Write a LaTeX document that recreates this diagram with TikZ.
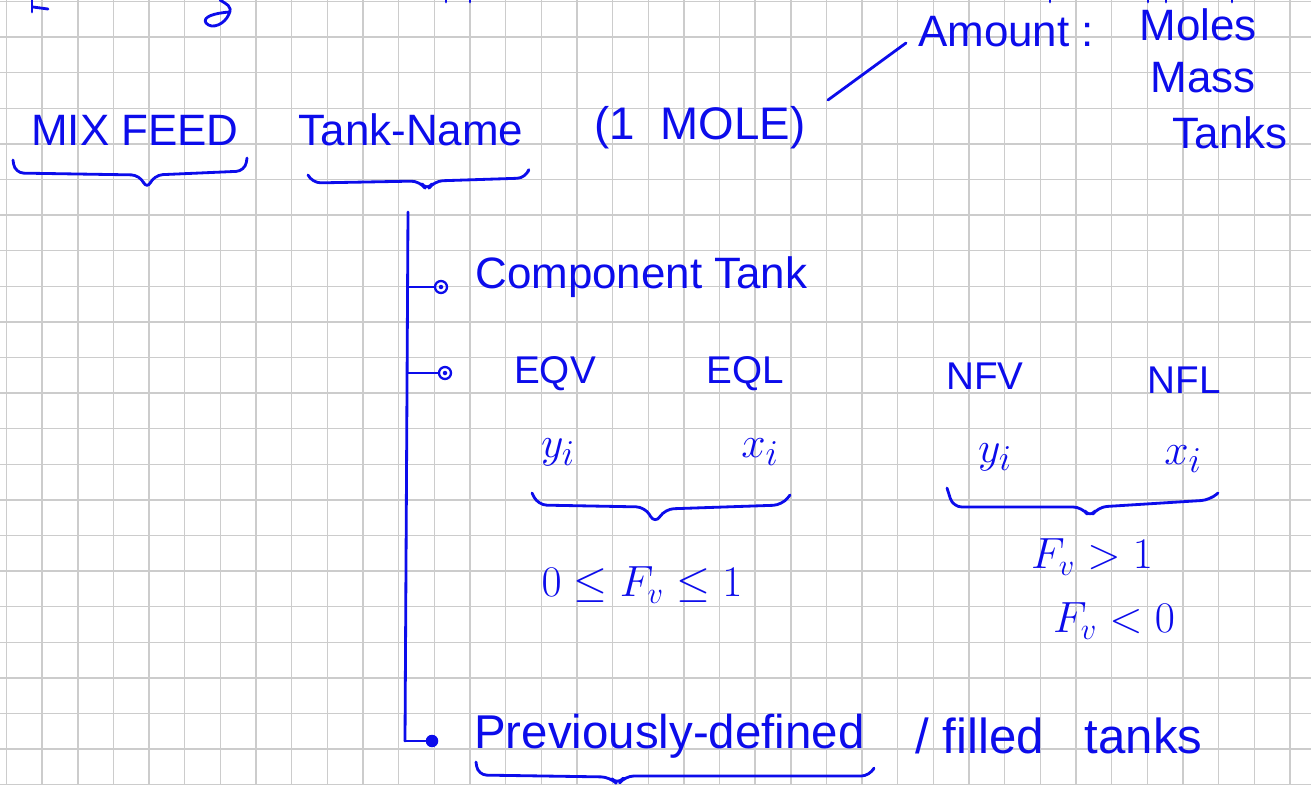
\documentclass[tikz,border=0pt]{standalone}
\usepackage{fontspec}
\setmainfont{Liberation Sans}
\usetikzlibrary{positioning}
\definecolor{inkblue}{RGB}{12,12,235}
\definecolor{gridgray}{RGB}{204,204,204}
\begin{document}
\begin{tikzpicture}[x=0.02cm, y=-0.02cm,
  ink/.style={draw=inkblue, line width=1.6pt, line cap=round, line join=round},
  brc/.style={ink, rounded corners=5pt},
  hand/.style={text=inkblue, inner sep=0pt, font=\fontsize{25}{30}\selectfont},
  small/.style={hand, font=\fontsize{22}{26}\selectfont},
  mth/.style={hand, font=\fontsize{32}{36}\selectfont},
  opendot/.style={circle, draw=inkblue, line width=1.3pt, inner sep=0pt, minimum size=0.24cm,
    path picture={\fill[inkblue] (path picture bounding box.center) circle (0.045cm);}},
  fulldot/.style={circle, fill=inkblue, inner sep=0pt, minimum size=0.25cm}]
  \useasboundingbox (0,0) rectangle (1311,785);
  \fill[white] (0,0) rectangle (1311,785);
  % squared paper
  \foreach \i in {0,...,36}
    \draw[gridgray, line width=0.8pt] ({6.5+35.65*\i},0) -- ({6.5+35.65*\i},785);
  \foreach \j in {0,...,22}
    \draw[gridgray, line width=0.8pt] (0,{1.4+35.6*\j}) -- (1311,{1.4+35.6*\j});
  % cut-off line at the top
  \draw[ink] (32,0) -- (32,12);
  \draw[ink] (33,7) -- (48,9);
  \draw[ink] (220,0) .. controls (226,4) and (233,6) .. (229,14) .. controls (225,24) and (212,30) .. (206,23)
    .. controls (202,17) and (214,13) .. (230,12);
  \foreach \x in {446,470,1050,1148,1166,1232}
    \draw[ink] (\x,0) -- (\x,2);
  % top row
  \node[hand] (mix) at (135,130) {MIX FEED};
  \node[hand] (tankname) at (411,130) {Tank-Name};
  \node[hand, font=\fontsize{26}{30}\selectfont] (mole) at (700,128) {(1\ \ MOLE)};
  \node[hand] (amount) at (1006,32) {Amount :};
  \node[hand] (moles) at (1198,25) {Moles};
  \node[hand] (mass) at (1203,78) {Mass};
  \node[hand] (tanks) at (1230,133) {Tanks};
  \coordinate (lead1) at (828,100);
  \coordinate (lead2) at (906,43);
  \draw[ink] (lead1) -- (lead2);
  % braces under the headings
  \draw[brc] (13,160) -- (15,173) -- (140,175) -- (147,190) -- (154,175) -- (245,171) -- (247,158);
  \draw[brc] (308,175) -- (312,183) -- (420,181) -- (427,191) -- (434,181) -- (526,178) -- (528,172);
  % tree
  \coordinate (ttop) at (408,212);
  \coordinate (tbot) at (405,741);
  \node[opendot] (dot1) at (441,287) {};
  \node[opendot] (dot2) at (445,373) {};
  \node[fulldot] (dot3) at (432,741) {};
  \draw[ink] (ttop) -- (tbot);
  \draw[ink] (dot1.west -| ttop) -- (dot1.west);
  \draw[ink] (dot2.west -| ttop) -- (dot2.west);
  \draw[ink] (tbot) -- (dot3.west);
  \node[hand, anchor=west] (comp) at (475,277) {Component Tank};
  \node[small] (eqv) at (555,374) {EQV};
  \node[small] (eql) at (745,374) {EQL};
  \node[small] (nfv) at (985,376) {NFV};
  \node[small] (nfl) at (1184,380) {NFL};
  \node[mth] (yi1) at (558,452) {$y_i$};
  \node[mth] (xi1) at (760,452) {$x_i$};
  \node[mth] (yi2) at (995,457) {$y_i$};
  \node[mth] (xi2) at (1183,459) {$x_i$};
  \draw[brc] (532,493) -- (538,505) -- (645,507) -- (655,524) -- (665,509) -- (782,505) -- (790,495);
  \draw[brc] (947,488) -- (953,507) -- (1082,507) -- (1090,518) -- (1098,507) -- (1210,500) -- (1218,493);
  \node[hand] (range) at (642,585) {$0 \le F_v \le 1$};
  \node[hand] (fvgt) at (1092,557) {$F_v > 1$};
  \node[hand] (fvlt) at (1114,621) {$F_v < 0$};
  % last branch
  \node[hand, anchor=west, font=\fontsize{27}{32}\selectfont] (prev) at (474,736) {Previously-defined};
  \node[hand, font=\fontsize{28}{32}\selectfont, right=1.0cm of prev] (rest) {/ filled\ \ \ tanks};
  \draw[brc] (476,762) -- (478,775) -- (610,777) -- (618,785) -- (625,776) -- (870,776) -- (873,770);
\end{tikzpicture}
\end{document}
